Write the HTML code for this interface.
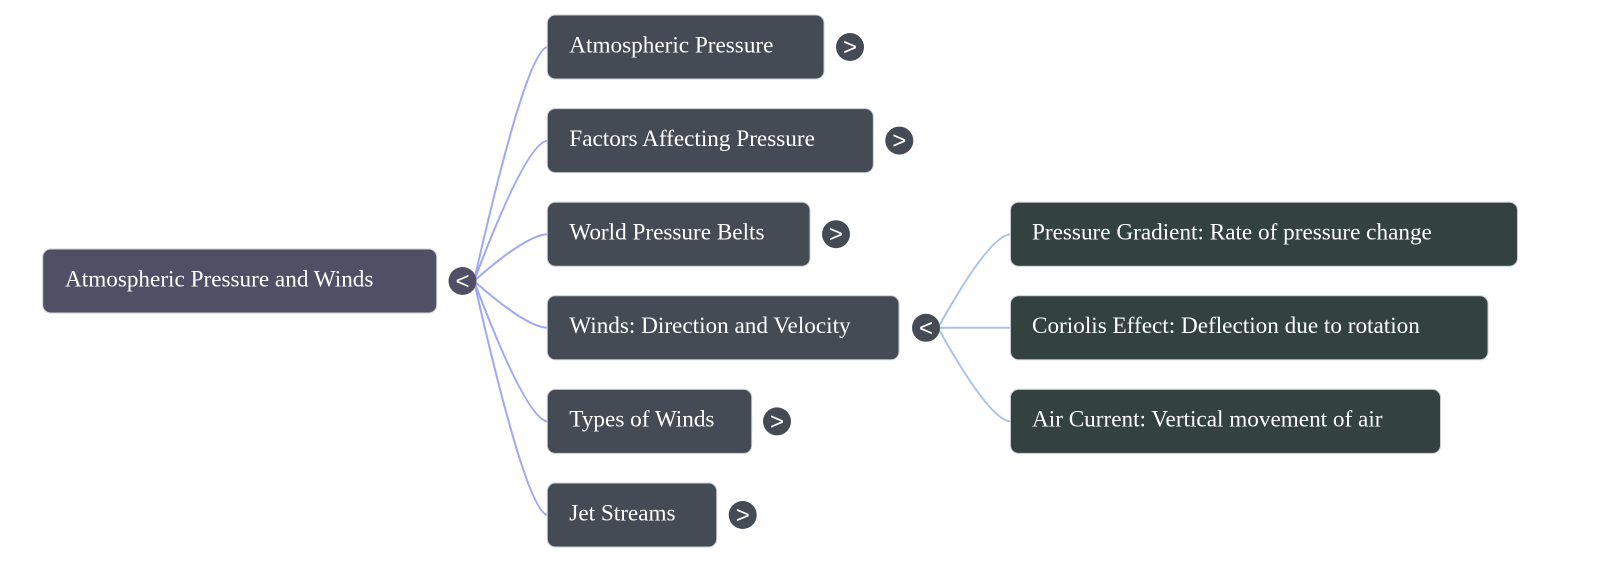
<!DOCTYPE html>
<html>
<head>
<meta charset="utf-8">
<style>
  html, body { margin: 0; padding: 0; background: #ffffff; }
  body { width: 1600px; height: 562px; overflow: hidden; }
  svg { display: block; }
  .t { font-family: "Liberation Serif", "Times New Roman", serif; font-size: 23.2px; fill: #ffffff; }
  .b { font-family: "Liberation Sans", Arial, sans-serif; font-size: 24px; fill: #ffffff; text-anchor: middle; }
</style>
</head>
<body>
<svg width="1600" height="562" viewBox="0 0 1600 562" xmlns="http://www.w3.org/2000/svg">
  <!-- level1 edges -->
  <g fill="none" stroke="#9ea8f7" stroke-width="2">
    <path d="M474 281 Q527 47 548 47"/>
    <path d="M474 281 Q527 140.6 548 140.6"/>
    <path d="M474 281 Q527 234.2 548 234.2"/>
    <path d="M474 281 Q527 327.8 548 327.8"/>
    <path d="M474 281 Q527 421.4 548 421.4"/>
    <path d="M474 281 Q527 515 548 515"/>
  </g>
  <!-- level2 edges -->
  <g fill="none" stroke="#a9c3e4" stroke-width="2">
    <path d="M938 327.8 Q990 234.2 1011 234.2"/>
    <path d="M938 327.8 L1011 327.8"/>
    <path d="M938 327.8 Q990 421.4 1011 421.4"/>
  </g>

  <!-- root -->
  <rect x="42.7" y="249" width="394" height="64" rx="8" fill="#4f5066" stroke="#d0d2d8" stroke-width="1"/>
  <text class="t" x="65" y="286.3">Atmospheric Pressure and Winds</text>
  <circle cx="462.5" cy="281" r="14" fill="#4f5066"/>
  <text class="b" x="462.5" y="289">&lt;</text>

  <!-- level1 nodes -->
  <g>
    <rect x="547.3" y="15" width="276.7" height="64" rx="8" fill="#444b55" stroke="#c9ccd1" stroke-width="1"/>
    <text class="t" x="569.3" y="52.3">Atmospheric Pressure</text>
    <circle cx="850" cy="47" r="14" fill="#444b55"/>
    <text class="b" x="850" y="55">&gt;</text>

    <rect x="547.3" y="108.6" width="326" height="64" rx="8" fill="#444b55" stroke="#c9ccd1" stroke-width="1"/>
    <text class="t" x="569.3" y="145.9">Factors Affecting Pressure</text>
    <circle cx="899.3" cy="140.6" r="14" fill="#444b55"/>
    <text class="b" x="899.3" y="148.6">&gt;</text>

    <rect x="547.3" y="202.2" width="262.7" height="64" rx="8" fill="#444b55" stroke="#c9ccd1" stroke-width="1"/>
    <text class="t" x="569.3" y="239.5">World Pressure Belts</text>
    <circle cx="836" cy="234.2" r="14" fill="#444b55"/>
    <text class="b" x="836" y="242.2">&gt;</text>

    <rect x="547.3" y="295.8" width="351.7" height="64" rx="8" fill="#444b55" stroke="#c9ccd1" stroke-width="1"/>
    <text class="t" x="569.3" y="333.1">Winds: Direction and Velocity</text>
    <circle cx="926" cy="327.8" r="14" fill="#444b55"/>
    <text class="b" x="926" y="335.8">&lt;</text>

    <rect x="547.3" y="389.4" width="204.4" height="64" rx="8" fill="#444b55" stroke="#c9ccd1" stroke-width="1"/>
    <text class="t" x="569.3" y="426.7">Types of Winds</text>
    <circle cx="777" cy="421.4" r="14" fill="#444b55"/>
    <text class="b" x="777" y="429.4">&gt;</text>

    <rect x="547.3" y="483" width="169.4" height="64" rx="8" fill="#444b55" stroke="#c9ccd1" stroke-width="1"/>
    <text class="t" x="569.3" y="520.3">Jet Streams</text>
    <circle cx="742.7" cy="515" r="14" fill="#444b55"/>
    <text class="b" x="742.7" y="523">&gt;</text>
  </g>

  <!-- level2 nodes -->
  <g>
    <rect x="1010.5" y="202.2" width="507" height="64" rx="8" fill="#33423e" stroke="#c9ccd1" stroke-width="1"/>
    <text class="t" x="1032" y="239.5">Pressure Gradient: Rate of pressure change</text>

    <rect x="1010.5" y="295.8" width="477.5" height="64" rx="8" fill="#33423e" stroke="#c9ccd1" stroke-width="1"/>
    <text class="t" x="1032" y="333.1">Coriolis Effect: Deflection due to rotation</text>

    <rect x="1010.5" y="389.4" width="430" height="64" rx="8" fill="#33423e" stroke="#c9ccd1" stroke-width="1"/>
    <text class="t" x="1032" y="426.7">Air Current: Vertical movement of air</text>
  </g>
</svg>
</body>
</html>
